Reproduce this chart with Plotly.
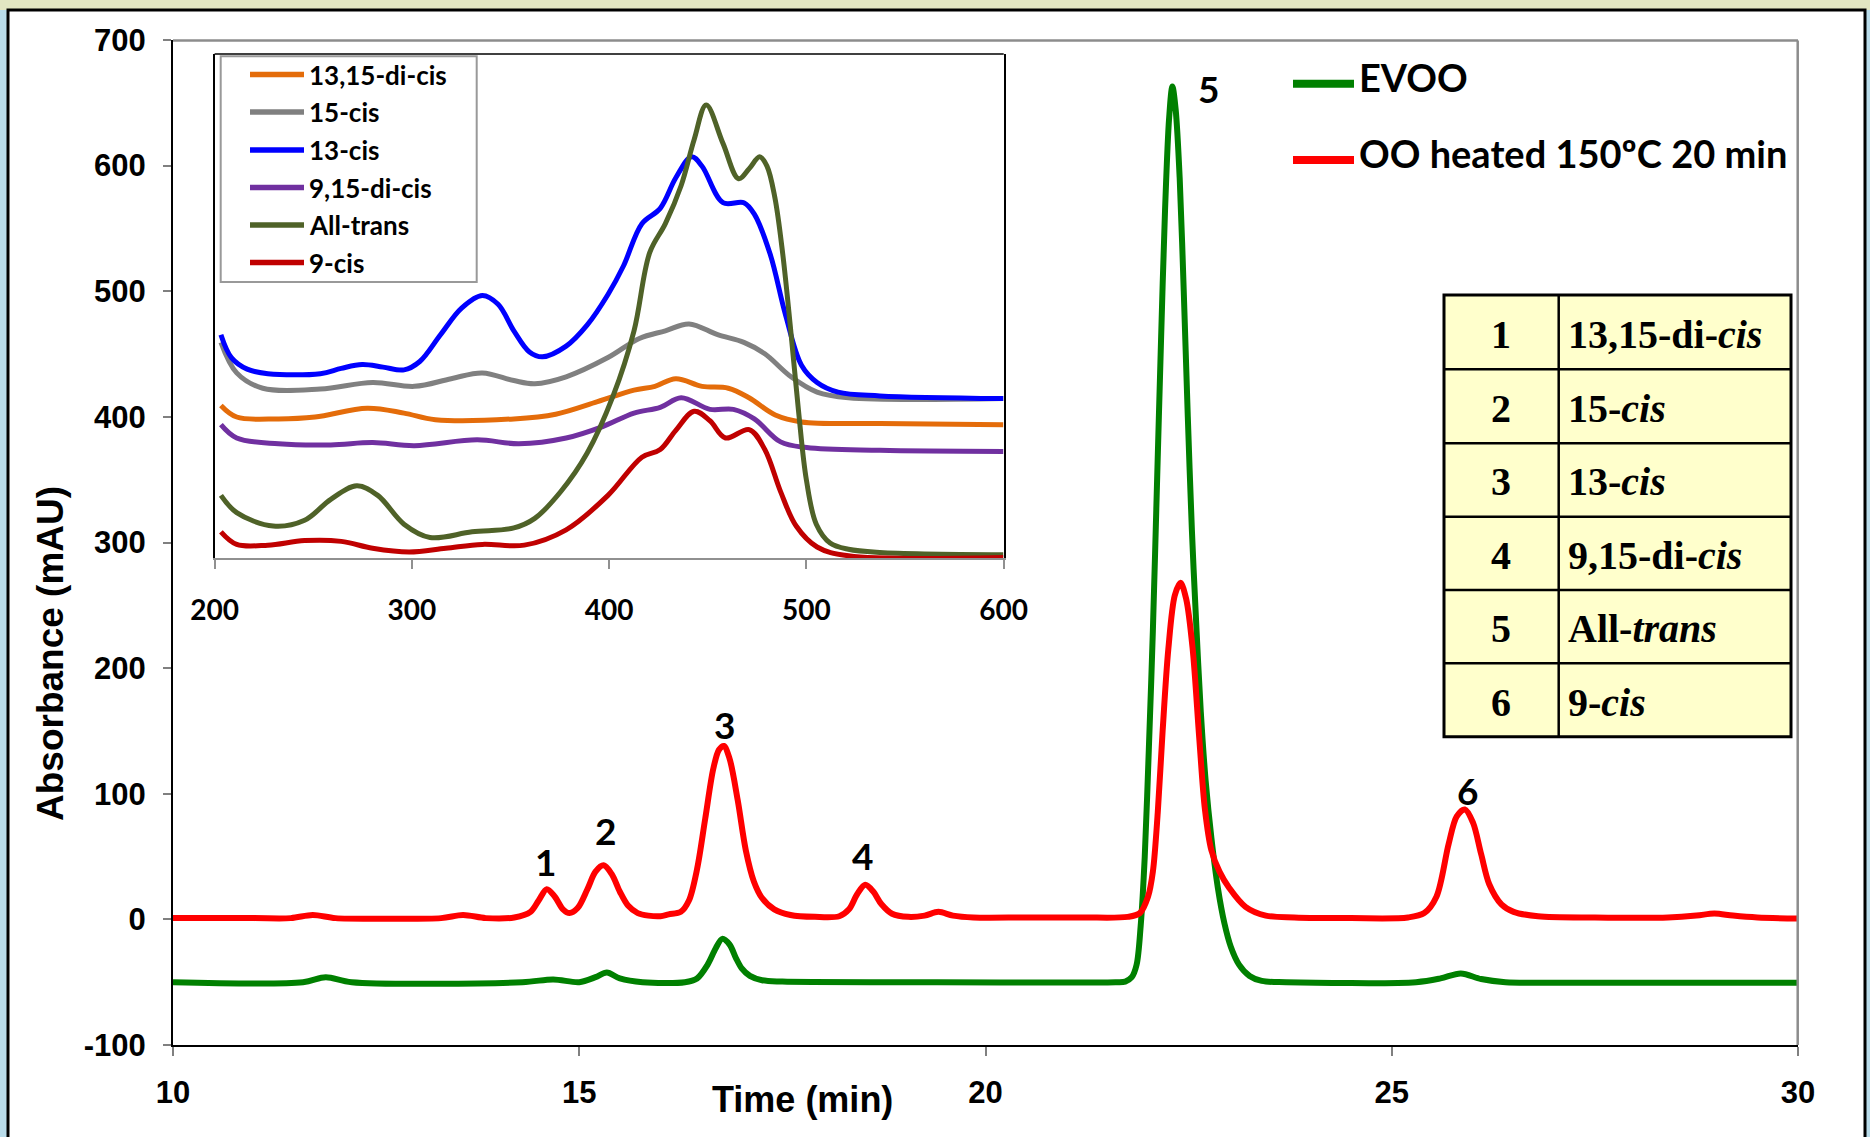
import plotly.graph_objects as go

# ---------------- main chromatogram data ----------------
time_oo = [10.0, 11.0, 11.45, 11.72, 12.0, 12.6, 13.3, 13.57, 13.85, 14.2, 14.4, 14.5, 14.6, 14.7, 14.8,
           14.88, 14.98, 15.1, 15.2, 15.3, 15.4, 15.5, 15.6, 15.72, 15.85, 16.0, 16.1, 16.25, 16.35, 16.45,
           16.55, 16.65, 16.72, 16.78, 16.85, 16.95, 17.05, 17.15, 17.25, 17.4, 17.6, 17.9, 18.2, 18.32,
           18.42, 18.52, 18.62, 18.72, 18.85, 19.05, 19.25, 19.42, 19.6, 19.85, 20.5, 21.2, 21.75, 21.9,
           22.0, 22.06, 22.12, 22.18, 22.25, 22.33, 22.4, 22.47, 22.55, 22.63, 22.7, 22.78, 22.88, 23.0,
           23.2, 23.45, 23.8, 24.5, 25.2, 25.4, 25.55, 25.7, 25.8, 25.9, 26.0, 26.1, 26.2, 26.35, 26.5,
           26.8, 27.5, 28.4, 28.75, 28.97, 29.2, 29.5, 30.0]
abs_oo = [1, 1, 1, 3.5, 1, 0.5, 1, 3.5, 1, 1.5, 6, 15, 24, 18, 8,
          5, 9, 24, 38, 43, 36, 22, 11, 5, 3, 2.5, 4, 6, 15, 40,
          80, 120, 135, 138, 128, 95, 55, 30, 17, 8, 3.5, 2, 2.5, 8,
          20, 27.5, 22, 12, 4.5, 2, 3, 6, 3, 1.5, 1.5, 1.5, 2, 5,
          18, 38, 85, 150, 215, 258, 268, 255, 215, 145, 88, 55, 38, 25,
          10, 3, 1.5, 1, 1.5, 5, 18, 60, 82, 87.5, 77, 52, 28, 12, 6,
          2.5, 1.5, 1.5, 3, 4.7, 3, 1.5, 0.7]

time_evoo = [10.0, 11.6, 11.88, 12.2, 14.3, 14.68, 15.0, 15.2, 15.34, 15.5, 15.78, 16.3, 16.45, 16.58,
             16.68, 16.76, 16.85, 16.93, 17.0, 17.1, 17.25, 17.5, 19.0, 21.6, 21.72, 21.8, 21.86, 21.91,
             21.96, 22.01, 22.06, 22.11, 22.16, 22.21, 22.26, 22.3, 22.34, 22.39, 22.44, 22.49, 22.54,
             22.59, 22.65, 22.71, 22.78, 22.86, 22.94, 23.02, 23.12, 23.25, 23.4, 23.7, 25.3, 25.6, 25.85,
             26.1, 26.4, 27.0, 30.0]
abs_evoo = [-50, -50, -46, -50, -50, -47.8, -50, -46, -42.3, -47, -50, -50, -47, -36,
            -23, -15.5, -20, -31, -39, -45, -48.5, -49.5, -50, -50, -49.5, -46, -36, -5,
            50, 135, 230, 345, 460, 565, 638, 663, 645, 590, 500, 400, 310,
            240, 165, 110, 65, 25, -3, -22, -36, -45, -49, -50, -50, -47, -43,
            -47.5, -50, -50.5, -50.5]

series_names = ["EVOO", "OO heated 150ºC 20 min"]
series_colors = ["#008000", "#FF0000"]

peak_labels = ["1", "2", "3", "4", "5", "6"]
peak_label_t = [14.58, 15.32, 16.79, 18.48, 22.74, 25.93]
peak_label_v = [46, 70.5, 155, 51, 661, 102.5]

table_numbers = ["1", "2", "3", "4", "5", "6"]
table_names = ["13,15-di-<i>cis</i>", "15-<i>cis</i>", "13-<i>cis</i>", "9,15-di-<i>cis</i>",
               "All-<i>trans</i>", "9-<i>cis</i>"]

x_ticks = [10, 15, 20, 25, 30]
y_ticks = [-100, 0, 100, 200, 300, 400, 500, 600, 700]
y_tick_labels = ["-100", "0", "100", "200", "300", "400", "500", "600", "700"]

# ---------------- inset UV-Vis spectra ----------------
wl_1315 = [203.2, 211.2, 232.4, 250.9, 277.4, 296, 311.9, 351.7, 372.9, 394.1, 412.6, 423.2, 433.8,
           447.1, 460.4, 470.9, 484.2, 497.5, 537.2, 599.8]
ab_1315 = [409.5, 400.3, 398.8, 400.3, 407.3, 403.4, 398.2, 398.8, 402.5, 412.5, 421.7, 424.7, 430.8,
           424.7, 423.2, 415.6, 401.9, 396.4, 395.1, 394.2]
wl_15 = [203.2, 211.2, 224.4, 253.6, 280.1, 301.3, 319.9, 335.7, 351.7, 362.3, 378.2, 399.4, 415.3,
         428.5, 440.5, 455.0, 468.3, 478.9, 492.2, 505.4, 521.3, 599.8]
ab_15 = [459.7, 435.4, 423.2, 422.6, 427.8, 424.7, 430.8, 435.4, 429.3, 426.8, 432.3, 447.6, 462.8,
         468.9, 474.4, 465.8, 459.7, 450.6, 432.3, 420.1, 415.6, 415]
wl_13 = [203.2, 208.5, 216.5, 227, 253.6, 264.2, 274.8, 285.4, 296, 304, 314.5, 325.2, 335.7, 343.7,
         351.7, 359.6, 366.2, 378.2, 388.8, 399.4, 407.3, 416.6, 425.9, 433.8, 441.8, 447.1, 457.7,
         468.3, 473.6, 481.6, 489.5, 497.5, 505.4, 516.0, 537.2, 599.8]
ab_13 = [465.8, 447.6, 438.4, 434.8, 434.8, 439, 442, 440, 437.8, 444.5, 465.8, 487, 497, 490,
         468.9, 452.1, 448.2, 456.7, 473.4, 497.8, 520.7, 554.2, 566.4, 590.7, 607.5, 599.9, 570.9,
         570.9, 561.8, 530, 481, 441.5, 427.8, 420.1, 417.1, 415]
wl_915 = [203.2, 211.2, 232.4, 258.9, 280.1, 301.3, 333.1, 354.3, 378.2, 396.7, 412.6, 425.9, 436.5,
          451.1, 463.0, 473.6, 486.9, 500.1, 537.2, 599.8]
ab_915 = [394.2, 383.6, 379, 378.1, 379.9, 377.5, 382.1, 379, 383.6, 392.7, 403.4, 408, 415.6,
          406.4, 406.4, 398.8, 380.5, 376, 373.8, 372.9]
wl_trans = [203.2, 211.2, 229.7, 245.6, 258.9, 272.1, 282.7, 296, 309.2, 330.5, 351.7, 362.3, 375.5,
            388.8, 402.0, 412.6, 420.6, 428.5, 436.5, 443.1, 449.2, 457.7, 465.6, 471.0, 476.3, 480.0,
            484.0, 488.0, 492.0, 496.0, 500.0, 505.0, 512.0, 521.3, 537.2, 599.8]
ab_trans = [337.9, 324.2, 313.5, 318.1, 334.8, 345.5, 337.9, 315.0, 304.4, 308.9, 312.0, 319.6, 341.0,
            371.4, 417.1, 468.9, 531.3, 554.2, 584.6, 621.2, 648.6, 618.1, 590.0, 598.0, 607.5, 600.0,
            575.0, 530.0, 470.0, 405.0, 350.0, 315.0, 300.0, 295.0, 292.5, 290.7]
wl_9 = [203.2, 211.2, 227.0, 245.6, 264.2, 280.1, 298.6, 317.2, 335.7, 357.0, 378.2, 399.4, 416.6,
        425.9, 433.8, 443.1, 451.1, 459.0, 471.0, 478.9, 486.9, 494.8, 505.4, 521.3, 599.8]
ab_9 = [308.9, 298.9, 298.3, 301.9, 301.3, 295.8, 292.8, 295.8, 298.9, 298.3, 310.5, 337.9, 368.3,
        374.4, 389.7, 404.9, 397.3, 383.6, 390.3, 374.4, 340.9, 313.5, 296.8, 289.8, 288.5]

inset_names = ["13,15-di-cis", "15-cis", "13-cis", "9,15-di-cis", "All-trans", "9-cis"]
inset_colors = ["#E46C0A", "#808080", "#0000FF", "#7030A0", "#4F6228", "#C00000"]
inset_wl = [wl_1315, wl_15, wl_13, wl_915, wl_trans, wl_9]
inset_ab = [ab_1315, ab_15, ab_13, ab_915, ab_trans, ab_9]
inset_ticks = [200, 300, 400, 500, 600]

# ---------------- layout geometry (pixels) ----------------
W, H = 1870, 1137
L, R, T, B = 173, 72, 40, 92
PW, PH = W - L - R, H - T - B


def px(x):
    return (x - L) / PW


def py(y):
    return (H - B - y) / PH


fig = go.Figure()

fig.add_trace(go.Scatter(x=time_evoo, y=abs_evoo, mode="lines", name=series_names[0],
                         line=dict(color=series_colors[0], width=6, shape="spline", smoothing=0.9),
                         showlegend=False))
fig.add_trace(go.Scatter(x=time_oo, y=abs_oo, mode="lines", name=series_names[1],
                         line=dict(color=series_colors[1], width=6, shape="spline", smoothing=0.9),
                         showlegend=False))

for nm, col, wl, ab in zip(inset_names, inset_colors, inset_wl, inset_ab):
    fig.add_trace(go.Scatter(x=wl, y=ab, mode="lines", name=nm, xaxis="x2", yaxis="y2",
                             line=dict(color=col, width=5, shape="spline", smoothing=1.0),
                             showlegend=False))

axis_font = dict(family="Liberation Sans, Arial, sans-serif", size=31, color="black", weight="bold")

ix0, ix1, iy0, iy1 = 214.6, 1003.7, 54, 558

fig.update_layout(
    width=W, height=H,
    margin=dict(l=L, r=R, t=T, b=B, pad=0),
    paper_bgcolor="#b9dcea",
    plot_bgcolor="white",
    xaxis=dict(range=[10, 30], tickvals=x_ticks, showgrid=False, zeroline=False,
               showline=True, linecolor="black", linewidth=2, ticks="outside", ticklen=9,
               tickcolor="#808080", tickwidth=1.5, tickfont=axis_font, ticklabelstandoff=10),
    yaxis=dict(range=[-100, 700], tickvals=y_ticks, ticktext=y_tick_labels, showgrid=False,
               zeroline=False, showline=True, linecolor="black", linewidth=2, ticks="outside", ticklen=8,
               tickcolor="#808080", tickwidth=1.5, tickfont=axis_font, ticklabelstandoff=11),
    xaxis2=dict(domain=[px(ix0), px(ix1)], anchor="y2", range=[200, 600], tickvals=inset_ticks,
                showgrid=False, zeroline=False, showline=True, linecolor="#909090", linewidth=2,
                ticks="outside", ticklen=9, tickcolor="#909090", tickwidth=2,
                tickfont=dict(family="Lato, sans-serif", size=28, color="black", weight="bold"),
                ticklabelstandoff=17),
    yaxis2=dict(domain=[py(iy1), py(iy0)], anchor="x2", range=[288.06, 689.25], showgrid=False,
                zeroline=False, showline=True, linecolor="black", linewidth=1.5, mirror=True,
                showticklabels=False, ticks=""),
)

shapes = []
shapes.append(dict(type="rect", xref="paper", yref="paper", x0=px(0), x1=px(W), y0=py(0), y1=py(10),
                   fillcolor="#e2e6c2", line=dict(width=0), layer="below"))
shapes.append(dict(type="rect", xref="paper", yref="paper", x0=px(8), x1=px(1865), y0=py(10), y1=py(H + 20),
                   fillcolor="white", line=dict(color="black", width=3), layer="below"))
shapes.append(dict(type="line", xref="paper", yref="paper", x0=px(173), x1=px(1798), y0=py(40.5), y1=py(40.5),
                   line=dict(color="#8c8c8c", width=2.5)))
shapes.append(dict(type="line", xref="paper", yref="paper", x0=px(1797.7), x1=px(1797.7), y0=py(40.5), y1=py(1045),
                   line=dict(color="#8c8c8c", width=2.5)))
shapes.append(dict(type="line", xref="paper", yref="paper", x0=px(ix0), x1=px(ix1), y0=py(iy0), y1=py(iy0),
                   line=dict(color="black", width=1.5)))

annotations = []

leg_y = [83.7, 160]
for nm, col, ly in zip(series_names, series_colors, leg_y):
    shapes.append(dict(type="line", xref="paper", yref="paper", x0=px(1293), x1=px(1354), y0=py(ly), y1=py(ly),
                       line=dict(color=col, width=8)))
    annotations.append(dict(text=nm, xref="paper", yref="paper", x=px(1357), y=py(ly - 7), xanchor="left",
                            yanchor="middle", showarrow=False,
                            font=dict(family="Lato, sans-serif", size=38, color="black", weight="bold")))

shapes.append(dict(type="rect", xref="paper", yref="paper", x0=px(220.7), x1=px(476.7), y0=py(56.3), y1=py(282),
                   fillcolor="white", line=dict(color="#999999", width=2)))
inset_leg_y = [74.6, 112, 150, 187.5, 225, 262.5]
for nm, col, ly in zip(inset_names, inset_colors, inset_leg_y):
    shapes.append(dict(type="line", xref="paper", yref="paper", x0=px(250), x1=px(304), y0=py(ly), y1=py(ly),
                       line=dict(color=col, width=5.5)))
    annotations.append(dict(text=nm, xref="paper", yref="paper", x=px(307), y=py(ly), xanchor="left",
                            yanchor="middle", showarrow=False,
                            font=dict(family="Lato, sans-serif", size=26, color="black", weight="bold")))

for lab, t, v in zip(peak_labels, peak_label_t, peak_label_v):
    annotations.append(dict(text=lab, x=t, y=v, xref="x", yref="y", showarrow=False, xanchor="center",
                            yanchor="middle",
                            font=dict(family="Lato, sans-serif", size=37, color="black", weight="bold")))

tx0, tx1, tdiv = 1444, 1791, 1558.7
row_edges = [295, 369.3, 443.3, 516.7, 590, 663.3, 736.7]
shapes.append(dict(type="rect", xref="paper", yref="paper", x0=px(tx0), x1=px(tx1), y0=py(row_edges[0]),
                   y1=py(row_edges[-1]), fillcolor="#FFFFCC", line=dict(color="black", width=3)))
shapes.append(dict(type="line", xref="paper", yref="paper", x0=px(tdiv), x1=px(tdiv), y0=py(row_edges[0]),
                   y1=py(row_edges[-1]), line=dict(color="black", width=2.5)))
for ry in row_edges[1:-1]:
    shapes.append(dict(type="line", xref="paper", yref="paper", x0=px(tx0), x1=px(tx1), y0=py(ry), y1=py(ry),
                       line=dict(color="black", width=2.5)))
serif = dict(family="Liberation Serif, Times New Roman, serif", size=40, color="black", weight="bold")
for i, (num, name) in enumerate(zip(table_numbers, table_names)):
    cy = (row_edges[i] + row_edges[i + 1]) / 2 + 2
    annotations.append(dict(text=num, xref="paper", yref="paper", x=px(1501), y=py(cy), xanchor="center",
                            yanchor="middle", showarrow=False, font=serif))
    annotations.append(dict(text=name, xref="paper", yref="paper", x=px(1566), y=py(cy), xanchor="left",
                            yanchor="middle", showarrow=False, font=serif))

title_font = dict(family="Liberation Sans, Arial, sans-serif", size=36, color="black", weight="bold")
annotations.append(dict(text="Time (min)", xref="paper", yref="paper", x=px(802), y=py(1099), xanchor="center",
                        yanchor="middle", showarrow=False, font=title_font))
annotations.append(dict(text="Absorbance (mAU)", xref="paper", yref="paper", x=px(50), y=py(653),
                        xanchor="center", yanchor="middle", showarrow=False, textangle=-90,
                        font=dict(title_font, size=37)))

fig.update_layout(shapes=shapes, annotations=annotations)

fig.write_html("out.html")
